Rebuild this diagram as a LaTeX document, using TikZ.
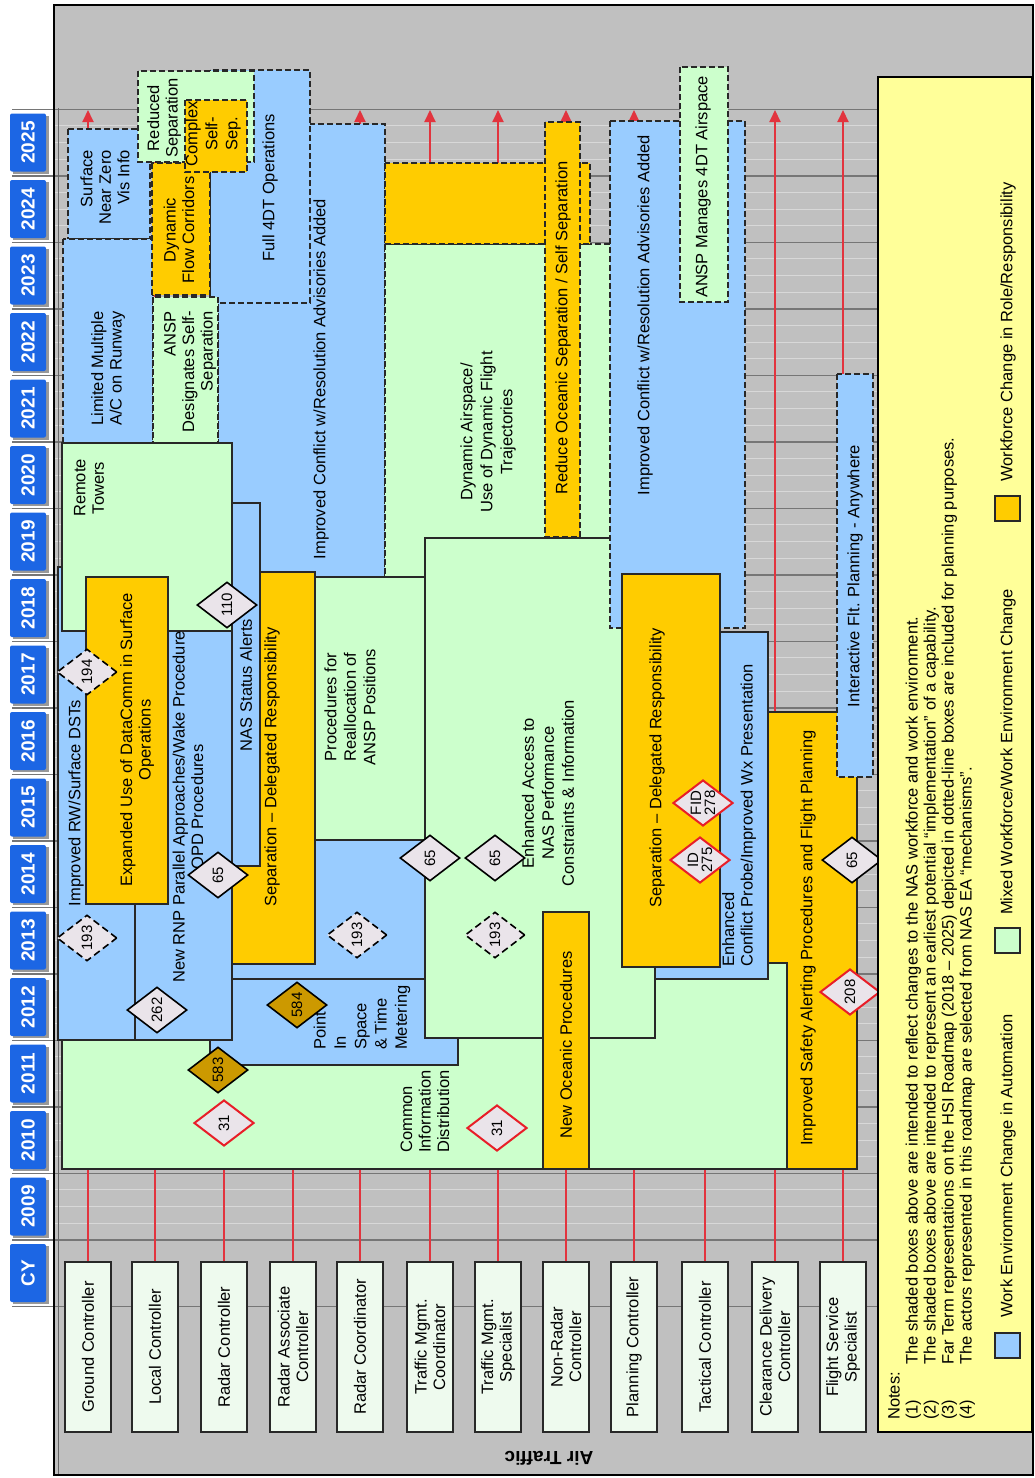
\documentclass[tikz,border=0pt]{standalone}
\usepackage{fontspec}
\setmainfont{Liberation Sans}
\usepackage{graphicx}
\usetikzlibrary{arrows.meta,shapes.geometric}
\definecolor{panelgray}{RGB}{192,192,192}
\definecolor{qline}{RGB}{216,216,216}
\definecolor{yline}{RGB}{118,118,118}
\definecolor{boxblue}{RGB}{153,204,255}
\definecolor{boxgreen}{RGB}{204,255,204}
\definecolor{boxorange}{RGB}{255,204,0}
\definecolor{dkgold}{RGB}{204,153,0}
\definecolor{legyellow}{RGB}{255,255,153}
\definecolor{yearblue}{RGB}{28,102,228}
\definecolor{redln}{RGB}{226,52,62}
\definecolor{edgec}{RGB}{40,40,40}
\definecolor{diafill}{RGB}{234,228,234}
\definecolor{actorfill}{RGB}{238,250,238}
\definecolor{redbd}{RGB}{232,30,40}
\begin{document}
\begin{tikzpicture}[x=1pt,y=-1pt,
  font=\fontsize{16.5}{18.5}\selectfont,
  dbox/.style={draw=edgec, line width=1.6pt, dash pattern=on 6pt off 3pt},
  sbox/.style={draw=edgec, line width=1.4pt},
  txt/.style={rotate=90, align=center, inner sep=0pt},
  dia/.style={diamond, draw=black, line width=1.6pt, fill=diafill, minimum width=60pt, minimum height=46pt, inner sep=0pt},
  ddia/.style={dia, dash pattern=on 7pt off 4pt},
  rdia/.style={dia, draw=redbd, line width=2pt},
  gdia/.style={dia, fill=dkgold},
  dtxt/.style={rotate=90, align=center, inner sep=0pt, font=\fontsize{15}{14}\selectfont},
  actor/.style={rotate=90, draw=edgec, line width=1.8pt, fill=actorfill, minimum width=170pt, minimum height=46pt, align=center, inner sep=1pt},
  yearbox/.style={rotate=90, fill=yearblue, text=white, font=\bfseries\fontsize{19}{19}\selectfont, minimum width=58pt, minimum height=36pt, inner sep=0pt, rounded corners=2pt},
  redline/.style={draw=redln, line width=2pt, -{Triangle[width=11pt,length=12pt]}},
  legsq/.style={draw=edgec, line width=2pt, minimum size=25pt, inner sep=0pt}
]
\useasboundingbox (0,0) rectangle (1035,1478);
\fill[white] (0,0) rectangle (1035,1478);
\fill[panelgray] (54,5) rectangle (1033,1475);
% quarter lines
\foreach \k in {1,...,17}{
  \pgfmathsetmacro{\yc}{1273-66.5*\k}
  \foreach \d in {-16.6,0,16.6}{
    \draw[qline, line width=1pt] (54,{\yc+\d}) -- (1033,{\yc+\d});
  }
}
% year lines
\foreach \j in {0,...,18}{
  \pgfmathsetmacro{\yb}{1306.25-66.5*\j}
  \draw[yline, line width=1.5pt] (12,\yb) -- (1033,\yb);
}
\draw[black!60, line width=0.8pt] (58,108) -- (58,1475);
\draw[black, line width=2pt] (54,5) rectangle (1033,1475);
% year tabs
\foreach \k/\lab in {0/CY,1/2009,2/2010,3/2011,4/2012,5/2013,6/2014,7/2015,8/2016,9/2017,10/2018,11/2019,12/2020,13/2021,14/2022,15/2023,16/2024,17/2025}{
  \pgfmathsetmacro{\yc}{1273-66.5*\k}
  \fill[black!40] (13,{\yc-27}) rectangle (49,{\yc+31});
  \node[yearbox] (yr\k) at (28,\yc) {\lab};
}
% actors and their red lines
\foreach \i/\cx/\lab in {1/88/Ground Controller,2/155/Local Controller,3/224/Radar Controller,4/293/Radar Associate\\Controller,5/360/Radar Coordinator,6/430/Traffic Mgmt.\\Coordinator,7/498/Traffic Mgmt.\\Specialist,8/566/Non-Radar\\Controller,9/634/Planning Controller,10/705/Tactical Controller,11/775/Clearance Delivery\\Controller,12/843/Flight Service\\Specialist}{
  \node[actor] (a\i) at (\cx,1347) {\lab};
  \coordinate (t\i) at (\cx,110);
  \draw[redline] (a\i.east) -- (t\i);
}
% ---- far-term (dashed) boxes, top-left cluster
\path[dbox, fill=boxblue] (218,124) rectangle (385,577);
\path[dbox, fill=boxblue] (210,70) rectangle (310,303);
\path[dbox, fill=boxblue] (68,129) rectangle (150,239);
\path[dbox, fill=boxblue] (63,239) rectangle (153,443);
\path[dbox, fill=boxgreen] (153,297) rectangle (218,443);
\path[dbox, fill=boxgreen] (138,71) rectangle (254,162);
\path[dbox, fill=boxorange] (152,163) rectangle (210,295);
\path[dbox, fill=boxorange] (185,100) rectangle (247,172);
% dynamic airspace cluster
\path[dbox, fill=boxgreen] (385,244) rectangle (610,577);
\path[dbox, fill=boxorange] (385,163) rectangle (590,244);
\path[dbox, fill=boxorange] (545,122) rectangle (580,537);
% lower solid boxes
\path[sbox, fill=boxorange] (768,712) rectangle (857,1169);
\path[sbox, fill=boxgreen] (62,963) rectangle (787,1169);
\path[sbox, fill=boxblue] (210,979) rectangle (458,1065);
\path[sbox, fill=boxblue] (232,835) rectangle (425,979);
\path[sbox, fill=boxblue] (58,567) rectangle (135,1040);
\path[sbox, fill=boxblue] (135,567) rectangle (232,1040);
\path[sbox, fill=boxgreen] (425,538) rectangle (655,1038);
% right dashed boxes
\path[dbox, fill=boxblue] (610,121) rectangle (745,628);
\path[dbox, fill=boxgreen] (680,67) rectangle (728,302);
\path[dbox, fill=boxblue] (837,374) rectangle (873,777);
% remaining solid boxes
\path[sbox, fill=boxgreen] (62,443) rectangle (232,631);
\path[sbox, fill=boxorange] (86,577) rectangle (168,904);
\path[sbox, fill=boxorange] (232,572) rectangle (315,964);
\path[sbox, fill=boxblue] (232,503) rectangle (260,866);
\path[sbox, fill=boxgreen] (315,577) rectangle (425,840);
\path[sbox, fill=boxorange] (543,912) rectangle (589,1169);
\path[sbox, fill=boxblue] (655,632) rectangle (768,979);
\path[sbox, fill=boxorange] (622,574) rectangle (720,967);
% ---- box texts
\node[txt] (tImpConfL) at (321,379) {Improved Conflict w/Resolution Advisories Added};
\node[txt] (tFull) at (270,188) {Full 4DT Operations};
\node[txt, align=right, anchor=east] (tSurface) at (105,150) {Surface\\Near Zero\\Vis Info};
\node[txt, align=right, anchor=east] (tLimited) at (108,311) {Limited Multiple\\A/C on Runway};
\node[txt, align=right, anchor=east] (tDesig) at (190,311) {ANSP\\Designates Self-\\Separation};
\node[txt] (tReduced) at (164,118) {Reduced\\Separation};
\node[txt] (tDynFlow) at (179,230) {Dynamic\\Flow Corridors};
\node[txt, font=\fontsize{16.5}{20}\selectfont] (tComplex) at (213,134) {Complex\\Self-\\Sep.};
\node[txt, font=\fontsize{16.5}{20}\selectfont] (tDynAir) at (488,432) {Dynamic Airspace/\\Use of Dynamic Flight\\Trajectories};
\node[txt] (tRedOce) at (563,328) {Reduce Oceanic Separation / Self Separation};
\node[txt] (tImpConfR) at (645,315) {Improved Conflict w/Resolution Advisories Added};
\node[txt] (tManages) at (703,187) {ANSP Manages 4DT Airspace};
\node[txt] (tInter) at (855,576) {Interactive Flt. Planning - Anywhere};
\node[txt] (tRemote) at (89,488) {Remote\\Towers};
\node[txt] (tExpanded) at (137,740) {Expanded Use of DataComm in Surface\\Operations};
\node[txt] (tImpRW) at (76,803) {Improved RW/Surface DSTs};
\node[txt] (tNewRNP) at (188,807) {New RNP Parallel Approaches/Wake Procedure\\OPD Procedures};
\node[txt] (tNAS) at (246,685) {NAS Status Alerts};
\node[txt] (tSepL) at (272,767) {Separation – Delegated Responsibility};
\node[txt, font=\fontsize{16.5}{19.5}\selectfont] (tProc) at (350,707) {Procedures for\\Reallocation of\\ANSP Positions};
\node[txt, font=\fontsize{16.5}{20}\selectfont] (tEnhAcc) at (548,793) {Enhanced Access to\\NAS Performance\\Constraints \& Information};
\node[txt] (tSepR) at (657,768) {Separation – Delegated Responsibility};
\node[txt, align=left, anchor=west] (tEnhConf) at (739,967) {Enhanced\\Conflict Probe/Improved Wx Presentation};
\node[txt] (tAA) at (808,938) {Improved Safety Alerting Procedures and Flight Planning};
\node[txt, align=left, anchor=west] (tCommon) at (425,1153) {Common\\Information\\Distribution};
\node[txt, align=left, anchor=west, font=\fontsize{16.5}{20.3}\selectfont] (tPoint) at (362,1050) {Point\\In\\Space\\\& Time\\Metering};
\node[txt] (tNewOce) at (566,1045) {New Oceanic Procedures};
% ---- diamonds
\node[ddia] (d194) at (87,672) {};
\node[dtxt] (l194) at (d194) {194};
\node[dia] (d110) at (227,605) {};
\node[dtxt] (l110) at (d110) {110};
\node[ddia] (d193a) at (87,938) {};
\node[dtxt] (l193a) at (d193a) {193};
\node[dia] (d65a) at (218,875) {};
\node[dtxt] (l65a) at (d65a) {65};
\node[dia] (d262) at (157,1010) {};
\node[dtxt] (l262) at (d262) {262};
\node[gdia] (d583) at (218,1070) {};
\node[dtxt] (l583) at (d583) {583};
\node[gdia] (d584) at (297,1005) {};
\node[dtxt] (l584) at (d584) {584};
\node[rdia] (d31a) at (224,1123) {};
\node[dtxt] (l31a) at (d31a) {31};
\node[ddia] (d193b) at (357,935) {};
\node[dtxt] (l193b) at (d193b) {193};
\node[dia] (d65b) at (430,858) {};
\node[dtxt] (l65b) at (d65b) {65};
\node[dia] (d65c) at (495,858) {};
\node[dtxt] (l65c) at (d65c) {65};
\node[ddia] (d193c) at (495,935) {};
\node[dtxt] (l193c) at (d193c) {193};
\node[rdia] (d31b) at (497,1128) {};
\node[dtxt] (l31b) at (d31b) {31};
\node[rdia] (d275) at (700,860) {};
\node[dtxt] (l275) at (d275) {ID\\275};
\node[rdia] (d278) at (703,803) {};
\node[dtxt] (l278) at (d278) {FID\\278};
\node[dia] (d65d) at (852,860) {};
\node[dtxt] (l65d) at (d65d) {65};
\node[rdia] (d208) at (850,992) {};
\node[dtxt] (l208) at (d208) {208};
% ---- legend
\path[draw=black, line width=2.2pt, fill=legyellow] (878,77) rectangle (1032,1432);
\node[rotate=90, anchor=north west, align=left, inner sep=0pt, font=\fontsize{16.5}{18}\selectfont] (notes) at (888,1420) {Notes:\\
\makebox[55pt][l]{(1)}The shaded boxes above are intended to reflect changes to the NAS workforce and work environment.\\
\makebox[55pt][l]{(2)}The shaded boxes above are intended to represent an earliest potential ``implementation'' of a capability.\\
\makebox[55pt][l]{(3)}Far Term representations on the HSI Roadmap (2018 – 2025) depicted in dotted-line boxes are included for planning purposes.\\
\makebox[55pt][l]{(4)}The actors represented in this roadmap are selected from NAS EA ``mechanisms''.};
\node[legsq, fill=boxblue] (lgb) at (1007,1345) {};
\node[rotate=90, anchor=west, inner sep=0pt] (lgbt) at (1008,1318) {Work Environment Change in Automation};
\node[legsq, fill=boxgreen] (lgg) at (1007,940) {};
\node[rotate=90, anchor=west, inner sep=0pt] (lggt) at (1008,915) {Mixed Workforce/Work Environment Change};
\node[legsq, fill=boxorange] (lgo) at (1007,508) {};
\node[rotate=90, anchor=west, inner sep=0pt] (lgot) at (1008,482) {Workforce Change in Role/Responsibility};
\node[rotate=180, font=\bfseries\fontsize{19}{19}\selectfont] (airtraffic) at (549,1458) {Air Traffic};
\end{tikzpicture}
\end{document}
